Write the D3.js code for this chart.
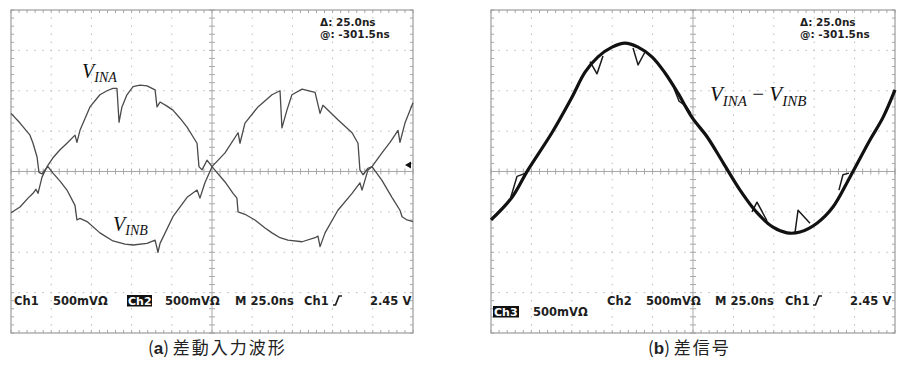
<!DOCTYPE html>
<html>
<head>
<meta charset="utf-8">
<script src="https://cdn.jsdelivr.net/npm/d3@7"></script>
<style>
  html, body { margin: 0; padding: 0; background: #ffffff; }
  svg { display: block; }
</style>
</head>
<body>
<svg id="chart" width="897" height="366"></svg>
<script>
// Oscilloscope screens: 10 horizontal divisions of 25 ns, 8 vertical divisions of 500 mV.
const timeDomain = [0, 250];      // ns across the screen
const voltDomain = [-2000, 2000]; // mV, screen bottom to top
const divTime = 25;               // ns per division
const divVolt = 500;              // mV per division

// Channel A input, [time ns, voltage mV]
const vinaPoints = [
  [0,-510],[5.6,-440],[10.6,-330],[13.7,-270],[15.5,-220],[16.8,-270],[19.3,-70],[22.4,60],
  [26.1,170],[30.5,270],[34.8,350],[39.8,450],[41.0,360],[42.9,510],[49.1,800],[55.3,950],
  [59.7,1000],[63.4,1030],[65.9,1030],[67.2,610],[69.0,800],[72.1,950],[75.9,1050],[80.2,1070],
  [84.6,1060],[89.6,1010],[90.8,800],[92.7,860],[97.0,810],[100.7,760],[105.1,660],[109.5,550],
  [113.2,430],[115.7,350],[116.9,60],[118.8,20],[121.9,140],[125.0,60],[133.1,-130],[138.1,-270],
  [140.5,-330],[141.2,-500],[145.5,-530],[151.7,-600],[158.0,-700],[162.3,-760],[167.3,-820],
  [172.2,-850],[181.0,-870],[189.1,-820],[190.9,-800],[192.2,-930],[195.3,-760],[203.3,-480],
  [212.1,-270],[217.0,-140],[218.3,-230],[222.0,20],[224.5,60],[230.7,230],[235.7,360],
  [240.7,510],[241.9,360],[245.0,600],[250.0,850]
];

// Channel B input, [time ns, voltage mV]
const vinbPoints = [
  [0,720],[5.6,600],[11.8,450],[13.7,350],[16.2,180],[17.4,-10],[19.3,-30],[21.1,20],[23.0,60],
  [26.1,-20],[30.5,-120],[34.8,-230],[39.8,-420],[41.0,-600],[42.9,-580],[47.3,-620],[55.3,-760],
  [63.4,-860],[70.9,-900],[75.9,-910],[84.6,-890],[89.6,-850],[91.4,-1000],[92.7,-890],
  [100.7,-560],[109.5,-320],[115.7,-230],[117.5,-330],[120.6,-140],[125.0,60],[133.1,230],
  [141.2,480],[142.4,350],[145.5,600],[153.6,800],[162.3,950],[167.3,1000],[168.5,540],
  [171.6,760],[174.7,950],[181.0,1020],[189.1,980],[192.2,720],[194.0,820],[203.3,640],
  [212.1,480],[215.8,350],[217.0,20],[218.9,-40],[222.0,40],[224.5,60],[230.7,-110],
  [236.9,-320],[241.9,-480],[243.2,-560],[246.3,-600],[250.0,-620]
];

// Difference signal V_INA - V_INB, [time ns, voltage mV]
const diffPoints = [
  [0,-600],[13.0,-320],[22.9,20],[37.7,480],[50.1,920],[58.2,1230],[66.2,1420],[74.9,1540],
  [82.9,1590],[91.0,1540],[99.6,1420],[107.7,1220],[115.7,970],[124.4,670],[133.7,430],
  [143.6,110],[154.1,-230],[164.6,-510],[174.5,-690],[183.2,-760],[191.2,-750],[201.7,-640],
  [211.6,-440],[222.1,-70],[234.5,390],[242.6,670],[250.0,1010]
];

// Switching glitches riding on the difference signal
const diffGlitches = [
  [[11.8,-350],[16.1,-60],[21.7,-20],[23.5,20]],
  [[61.3,1360],[65.6,1210],[69.3,1430]],
  [[87.9,1530],[91.0,1320],[95.3,1480]],
  [[113.2,1030],[116.4,870],[120.7,810],[123.7,720]],
  [[161.5,-500],[164.6,-380],[170.8,-610]],
  [[188.1,-760],[190.0,-480],[197.4,-640]],
  [[215.3,-230],[217.8,-40],[221.5,-20]]
];

// Readouts shown on the scope screens
const cursorLines = ["\u0394: 25.0ns", "@: -301.5ns"];
const statusA = { ch1: "Ch1", ch1Scale: "500mV\u03a9", ch2: "Ch2", ch2Scale: "500mV\u03a9",
                  time: "M 25.0ns", trig: "Ch1", level: "2.45 V" };
const statusB = { ch2: "Ch2", ch2Scale: "500mV\u03a9", time: "M 25.0ns", trig: "Ch1",
                  level: "2.45 V", ch3: "Ch3", ch3Scale: "500mV\u03a9" };
const triggerLevel = 80; // mV, trigger arrow on the left screen
const captions = [["a", "差動入力波形"], ["b", "差信号"]];

const svg = d3.select("#chart");
const scopeFont = "'DejaVu Sans', Verdana, sans-serif";

function makeScales(x0, y0, w, h) {
  return {
    x: d3.scaleLinear().domain(timeDomain).range([x0, x0 + w]),
    y: d3.scaleLinear().domain(voltDomain).range([y0 + h, y0])
  };
}

function drawGraticule(g, x, y) {
  const [xl, xr] = x.range();
  const [yb, yt] = y.range();
  const majT = d3.range(timeDomain[0] + divTime, timeDomain[1], divTime);
  const majV = d3.range(voltDomain[0] + divVolt, voltDomain[1], divVolt);
  const minT = d3.range(timeDomain[0], timeDomain[1] + 0.01, divTime / 5);
  const minV = d3.range(voltDomain[0], voltDomain[1] + 0.01, divVolt / 5);
  const stepX = x(divTime / 5) - x(0);
  const stepY = y(0) - y(divVolt / 5);

  g.append("rect").attr("x", xl).attr("y", yt).attr("width", xr - xl).attr("height", yb - yt)
    .attr("fill", "#ffffff");

  // dotted division lines
  g.selectAll("line.vd").data(majT.filter(t => t !== 125)).join("line").attr("class", "vd")
    .attr("x1", d => x(d)).attr("x2", d => x(d)).attr("y1", yt).attr("y2", yb)
    .attr("stroke", "#bdbdbd").attr("stroke-width", 1)
    .attr("stroke-dasharray", `1.6 ${stepY - 1.6}`).attr("stroke-dashoffset", 0.8);
  g.selectAll("line.hd").data(majV.filter(v => v !== 0)).join("line").attr("class", "hd")
    .attr("y1", d => y(d)).attr("y2", d => y(d)).attr("x1", xl).attr("x2", xr)
    .attr("stroke", "#bdbdbd").attr("stroke-width", 1)
    .attr("stroke-dasharray", `1.6 ${stepX - 1.6}`).attr("stroke-dashoffset", 0.8);

  // centre cross with minor ticks
  g.append("line").attr("x1", xl).attr("x2", xr).attr("y1", y(0)).attr("y2", y(0))
    .attr("stroke", "#a8a8a8");
  g.append("line").attr("x1", x(125)).attr("x2", x(125)).attr("y1", yt).attr("y2", yb)
    .attr("stroke", "#a8a8a8");
  g.selectAll("line.ct").data(minT).join("line").attr("class", "ct")
    .attr("x1", d => x(d)).attr("x2", d => x(d)).attr("y1", y(0) - 3).attr("y2", y(0) + 3)
    .attr("stroke", "#a8a8a8");
  g.selectAll("line.cv").data(minV).join("line").attr("class", "cv")
    .attr("y1", d => y(d)).attr("y2", d => y(d)).attr("x1", x(125) - 3).attr("x2", x(125) + 3)
    .attr("stroke", "#a8a8a8");

  // ticks along the frame
  g.selectAll("line.bt").data(minT).join("line").attr("class", "bt")
    .attr("x1", d => x(d)).attr("x2", d => x(d)).attr("y1", yt).attr("y2", yt + 3)
    .attr("stroke", "#a8a8a8");
  g.selectAll("line.bb").data(minT).join("line").attr("class", "bb")
    .attr("x1", d => x(d)).attr("x2", d => x(d)).attr("y1", yb).attr("y2", yb - 3)
    .attr("stroke", "#a8a8a8");
  g.selectAll("line.bl").data(minV).join("line").attr("class", "bl")
    .attr("y1", d => y(d)).attr("y2", d => y(d)).attr("x1", xl).attr("x2", xl + 3)
    .attr("stroke", "#a8a8a8");
  g.selectAll("line.br").data(minV).join("line").attr("class", "br")
    .attr("y1", d => y(d)).attr("y2", d => y(d)).attr("x1", xr).attr("x2", xr - 3)
    .attr("stroke", "#a8a8a8");

  g.append("rect").attr("x", xl).attr("y", yt).attr("width", xr - xl).attr("height", yb - yt)
    .attr("fill", "none").attr("stroke", "#9c9c9c").attr("stroke-width", 1.2);
}

function scopeText(g, x, y, str, opts = {}) {
  return g.append("text").attr("x", x).attr("y", y).text(str)
    .attr("font-family", scopeFont).attr("font-weight", "bold")
    .attr("font-size", opts.size || 11.5).attr("fill", opts.fill || "#1e1e1e");
}

function invertedLabel(g, x, y, w, str) {
  g.append("rect").attr("x", x).attr("y", y - 10).attr("width", w).attr("height", 11.5)
    .attr("fill", "#111");
  scopeText(g, x + 1, y, str, { fill: "#ffffff", size: 11 });
}

function risingEdge(g, x, y) {
  g.append("path")
    .attr("d", `M${x},${y} L${x + 2.5},${y} L${x + 6},${y - 9} L${x + 9},${y - 9}`)
    .attr("fill", "none").attr("stroke", "#1e1e1e").attr("stroke-width", 1.7);
}

function subscriptLabel(g, x, y, parts, sizes) {
  const t = g.append("text").attr("x", x).attr("y", y)
    .attr("font-family", "'Liberation Serif', 'Times New Roman', serif")
    .attr("font-style", "italic").attr("fill", "#111");
  parts.forEach(p => {
    const s = t.append("tspan").text(p.text).attr("font-size", p.sub ? sizes[1] : sizes[0]);
    if (p.dy) s.attr("dy", p.dy);
    if (p.dx) s.attr("dx", p.dx);
    if (p.italic === false) s.attr("font-style", "normal");
  });
}

// ---------- left screen: differential inputs ----------
const A = makeScales(11, 10, 402, 323);
const gA = svg.append("g");
drawGraticule(gA, A.x, A.y);

const lineA = d3.line().x(d => A.x(d[0])).y(d => A.y(d[1]));
gA.append("path").datum(vinbPoints).attr("d", lineA)
  .attr("fill", "none").attr("stroke", "#4a4a4a").attr("stroke-width", 1.3)
  .attr("stroke-linejoin", "round");
gA.append("path").datum(vinaPoints).attr("d", lineA)
  .attr("fill", "none").attr("stroke", "#4a4a4a").attr("stroke-width", 1.3)
  .attr("stroke-linejoin", "round");

// trigger level arrow
{
  const ty = A.y(triggerLevel), tx = A.x(250) - 2;
  gA.append("path").attr("d", `M${tx - 6},${ty} L${tx},${ty - 3.5} L${tx},${ty + 3.5} Z`)
    .attr("fill", "#111");
}

scopeText(gA, 320, 26, cursorLines[0], { size: 10.5 });
scopeText(gA, 320, 38, cursorLines[1], { size: 10.5 });

scopeText(gA, 14, 305, statusA.ch1);
scopeText(gA, 53, 305, statusA.ch1Scale);
invertedLabel(gA, 127, 305, 25, statusA.ch2);
scopeText(gA, 165, 305, statusA.ch2Scale);
scopeText(gA, 235, 305, statusA.time);
scopeText(gA, 304, 305, statusA.trig);
risingEdge(gA, 333, 305);
scopeText(gA, 370, 305, statusA.level);

subscriptLabel(gA, 82, 78, [{ text: "V" }, { text: "INA", sub: true, dy: 4 }], [20, 14]);
subscriptLabel(gA, 113, 231, [{ text: "V" }, { text: "INB", sub: true, dy: 4 }], [20, 14]);

// ---------- right screen: difference signal ----------
const B = makeScales(491, 10, 404, 323);
const gB = svg.append("g");
drawGraticule(gB, B.x, B.y);

const lineB = d3.line().x(d => B.x(d[0])).y(d => B.y(d[1]));
const smoothB = d3.line().x(d => B.x(d[0])).y(d => B.y(d[1])).curve(d3.curveCatmullRom);
gB.selectAll("path.glitch").data(diffGlitches).join("path").attr("class", "glitch")
  .attr("d", lineB).attr("fill", "none").attr("stroke", "#1a1a1a")
  .attr("stroke-width", 1.5).attr("stroke-linejoin", "round");
gB.append("path").datum(diffPoints).attr("d", smoothB)
  .attr("fill", "none").attr("stroke", "#111").attr("stroke-width", 3.2)
  .attr("stroke-linejoin", "round");

scopeText(gB, 800, 26, cursorLines[0], { size: 10.5 });
scopeText(gB, 800, 38, cursorLines[1], { size: 10.5 });

scopeText(gB, 607, 305, statusB.ch2);
scopeText(gB, 646, 305, statusB.ch2Scale);
scopeText(gB, 715, 305, statusB.time);
scopeText(gB, 785, 305, statusB.trig);
risingEdge(gB, 813, 305);
scopeText(gB, 850, 305, statusB.level);
invertedLabel(gB, 493, 316, 26, statusB.ch3);
scopeText(gB, 533, 316, statusB.ch3Scale);

subscriptLabel(gB, 710, 101, [
  { text: "V" }, { text: "INA", sub: true, dy: 5 },
  { text: " \u2212 ", italic: false, dy: -5 }, { text: "V" }, { text: "INB", sub: true, dy: 5 }
], [21, 15]);

// ---------- captions ----------
const capX = [148, 648];
captions.forEach((c, i) => {
  const t = svg.append("text").attr("x", capX[i]).attr("y", 354)
    .attr("font-family", "'Noto Sans CJK JP', 'Noto Sans', sans-serif")
    .attr("font-size", 17).attr("fill", "#222");
  t.append("tspan").text("(");
  t.append("tspan").text(c[0]).attr("font-weight", "bold").attr("font-family", "'Liberation Sans', Arial, sans-serif");
  t.append("tspan").text(") ");
  t.append("tspan").text(c[1]).attr("letter-spacing", 2);
});
</script>
</body>
</html>
